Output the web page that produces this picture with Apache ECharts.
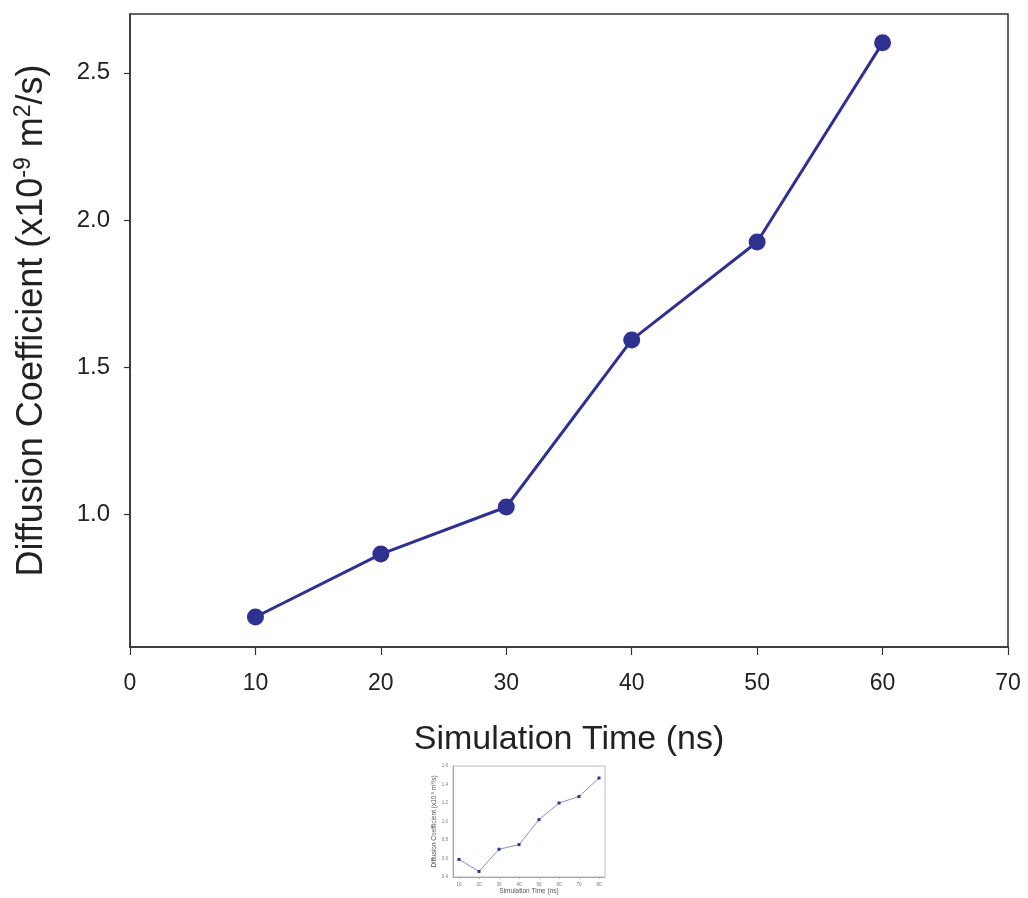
<!DOCTYPE html>
<html>
<head>
<meta charset="utf-8">
<script src="https://cdn.jsdelivr.net/npm/echarts@6/dist/echarts.min.js"></script>
<style>
html,body{margin:0;padding:0;background:#fff;}
#chart{width:1028px;height:898px;}
</style>
</head>
<body>
<div id="chart"></div>
<script>
// Main chart data
const mainTimes = [10, 20, 30, 40, 50, 60];
const mainDiffusion = [0.65, 0.864, 1.024, 1.592, 1.925, 2.602];
const mainXTicks = [0, 10, 20, 30, 40, 50, 60, 70];
const mainYTicks = [1.0, 1.5, 2.0, 2.5];

// Inset chart data
const insetTimes = [10, 20, 30, 40, 50, 60, 70, 80];
const insetDiffusion = [0.59, 0.46, 0.70, 0.75, 1.02, 1.20, 1.27, 1.47];
const insetXTicks = [10, 20, 30, 40, 50, 60, 70, 80];
const insetYTicks = [0.4, 0.6, 0.8, 1.0, 1.2, 1.4, 1.6];

const FONT = 'Liberation Sans, Arial, sans-serif';
const chart = echarts.init(document.getElementById('chart'), null, {renderer: 'canvas'});

const option = {
  backgroundColor: '#ffffff',
  animation: false,
  grid: [
    {left: 130, right: 20, top: 14, bottom: 251, show: true, borderColor: '#333', borderWidth: 1.5, backgroundColor: 'transparent'},
    {left: 453, right: 423, top: 766, bottom: 21, show: true, borderColor: '#aaa', borderWidth: 0.8, backgroundColor: 'transparent'}
  ],
  xAxis: [
    {
      gridIndex: 0, type: 'value', min: 0, max: 70, interval: 10,
      name: 'Simulation Time (ns)', nameLocation: 'middle', nameGap: 76,
      nameTextStyle: {fontFamily: FONT, fontSize: 34, color: '#222'},
      axisLine: {show: true, lineStyle: {color: '#333', width: 1.5}},
      axisTick: {show: true, inside: false, length: 8, lineStyle: {color: '#333', width: 1.2}, customValues: mainXTicks},
      axisLabel: {fontFamily: FONT, fontSize: 23, color: '#222', margin: 25, customValues: mainXTicks},
      splitLine: {show: false}
    },
    {
      gridIndex: 1, type: 'value', min: 7, max: 83,
      name: 'Simulation Time (ns)', nameLocation: 'middle', nameGap: 11,
      nameTextStyle: {fontFamily: FONT, fontSize: 6.5, color: '#555'},
      axisLine: {show: true, lineStyle: {color: '#999', width: 0.8}},
      axisTick: {show: true, length: 2, lineStyle: {color: '#999', width: 0.6}, customValues: insetXTicks},
      axisLabel: {fontFamily: FONT, fontSize: 4.5, color: '#777', margin: 5, customValues: insetXTicks},
      splitLine: {show: false}
    }
  ],
  yAxis: [
    {
      gridIndex: 0, type: 'value', min: 0.548, max: 2.70,
      name: 'Diffusion Coefficient (x10{sup|-9} m{sup|2}/s)', nameLocation: 'middle', nameGap: 77,
      nameTextStyle: {fontFamily: FONT, fontSize: 36, color: '#222', padding: [0, 0, 0, 20],
        rich: {sup: {fontFamily: FONT, fontSize: 23, color: '#222', verticalAlign: 'top', padding: [0, 0, 18, 0]}}},
      axisLine: {show: true, lineStyle: {color: '#333', width: 1.5}},
      axisTick: {show: true, length: 6, lineStyle: {color: '#333', width: 1.2}, customValues: mainYTicks},
      axisLabel: {fontFamily: FONT, fontSize: 24, color: '#222', margin: 20, customValues: mainYTicks,
        formatter: v => v.toFixed(1)},
      splitLine: {show: false}
    },
    {
      gridIndex: 1, type: 'value', min: 0.4, max: 1.6, interval: 0.2,
      name: 'Diffusion Coefficient (x10{sup|-9} m{sup|2}/s)', nameLocation: 'middle', nameGap: 15,
      nameTextStyle: {fontFamily: FONT, fontSize: 6.5, color: '#555',
        rich: {sup: {fontFamily: FONT, fontSize: 4, color: '#555', verticalAlign: 'top', padding: [0, 0, 3, 0]}}},
      axisLine: {show: true, lineStyle: {color: '#999', width: 0.8}},
      axisTick: {show: false},
      axisLabel: {fontFamily: FONT, fontSize: 4.5, color: '#777', margin: 5, customValues: insetYTicks,
        formatter: v => v.toFixed(1)},
      splitLine: {show: false}
    }
  ],
  series: [
    {
      type: 'line', xAxisIndex: 0, yAxisIndex: 0,
      data: mainTimes.map((t, i) => [t, mainDiffusion[i]]),
      symbol: 'circle', symbolSize: 17,
      lineStyle: {color: '#2e3192', width: 3},
      itemStyle: {color: '#2e3192'}
    },
    {
      type: 'line', xAxisIndex: 1, yAxisIndex: 1,
      data: insetTimes.map((t, i) => [t, insetDiffusion[i]]),
      symbol: 'rect', symbolSize: 3,
      lineStyle: {color: '#8a8ad6', width: 1},
      itemStyle: {color: '#2e3192'}
    }
  ]
};
chart.setOption(option);
</script>
</body>
</html>
